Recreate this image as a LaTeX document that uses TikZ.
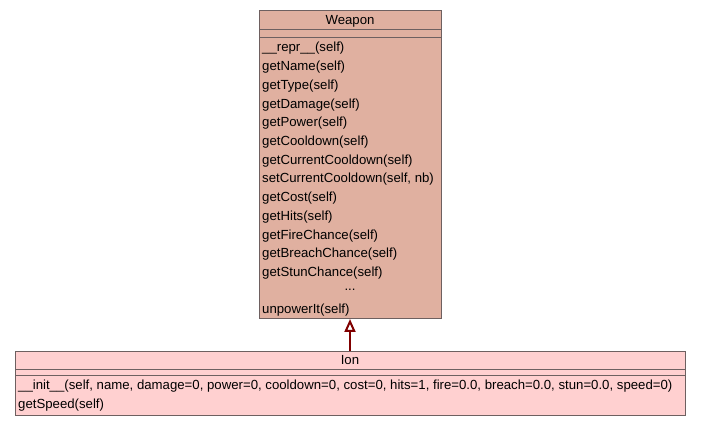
\documentclass[tikz,border=0pt]{standalone}
\usepackage{fontspec}
\setmainfont{Liberation Sans}
\usetikzlibrary{arrows.meta}
\definecolor{weaponfill}{HTML}{E0B0A0}
\definecolor{ionfill}{HTML}{FFD0D0}
\definecolor{umlborder}{HTML}{6E6060}
\definecolor{inheritcol}{HTML}{800000}
\begin{document}
\begin{tikzpicture}[x=1pt,y=-1pt,
  classbox/.style={draw=umlborder,line width=1pt},
  sepline/.style={draw=umlborder,line width=1pt},
  member/.style={anchor=west,inner sep=0pt,font=\fontsize{13.2}{15}\selectfont,text=black},
  classname/.style={anchor=center,inner sep=0pt,font=\fontsize{13.2}{15}\selectfont,text=black},
  inherits/.style={draw=inheritcol,line width=2pt,-{Triangle[open,width=11pt,length=13pt,line width=2pt]}}]
\useasboundingbox (0,0) rectangle (701,427);
% Weapon class
\path[classbox,fill=weaponfill] (259,11) rectangle (441,319);
\draw[sepline] (259,30) -- (441,30);
\draw[sepline] (259,38) -- (441,38);
\node[classname] (wtitle) at (350,21.5) {Weapon};
\foreach \txt [count=\i] in {\_\_repr\_\_(self),getName(self),getType(self),getDamage(self),getPower(self),getCooldown(self),getCurrentCooldown(self),{setCurrentCooldown(self, nb)},getCost(self),getHits(self),getFireChance(self),getBreachChance(self),getStunChance(self)}
  \node[member] (wm\i) at (262,{48.5+18.72*(\i-1)}) {\txt};
\node[classname] (wdots) at (350,290) {...};
\node[member] (wlast) at (262,310.5) {unpowerIt(self)};
\coordinate (wbottom) at (350,319);
% Ion class
\path[classbox,fill=ionfill] (15,351) rectangle (685,415);
\draw[sepline] (15,369) -- (685,369);
\draw[sepline] (15,375) -- (685,375);
\node[classname] (ititle) at (350,360.5) {Ion};
\node[member] (im1) at (18,386) {\_\_init\_\_(self, name, damage=0, power=0, cooldown=0, cost=0, hits=1, fire=0.0, breach=0.0, stun=0.0, speed=0)};
\node[member] (im2) at (18,405) {getSpeed(self)};
\coordinate (itop) at (350,351);
% generalisation
\draw[inherits] (itop) -- (wbottom);
\end{tikzpicture}
\end{document}
